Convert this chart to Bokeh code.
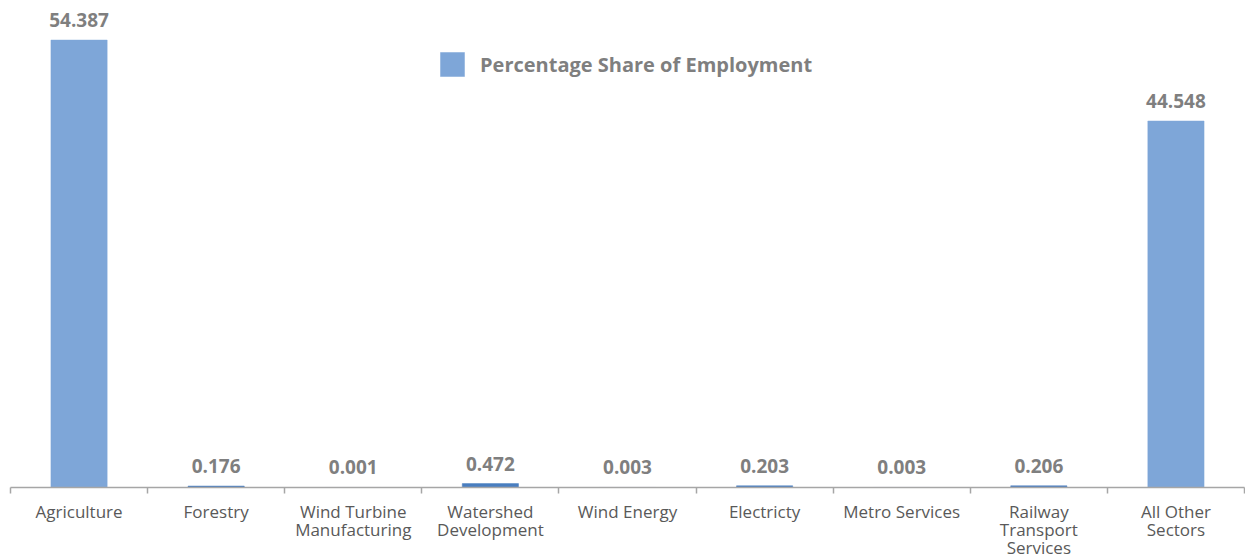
from bokeh.plotting import figure
from bokeh.models import ColumnDataSource, Range1d, FixedTicker, Legend, LegendItem, LabelSet
from bokeh.core.properties import value
from bokeh.embed import file_html
from bokeh.resources import INLINE

categories = ["Agriculture", "Forestry", "Wind Turbine\nManufacturing", "Watershed\nDevelopment",
              "Wind Energy", "Electricty", "Metro Services", "Railway\nTransport\nServices",
              "All Other\nSectors"]
values = [54.387, 0.176, 0.001, 0.472, 0.003, 0.203, 0.003, 0.206, 44.548]
value_labels = ["54.387", "0.176", "0.001", "0.472", "0.003", "0.203", "0.003", "0.206", "44.548"]
series_name = "Percentage Share of Employment"

xs = [i + 0.5 for i in range(len(categories))]
colors = ["#7EA6D8" if v >= 1 else "#4A7EC0" for v in values]

src = ColumnDataSource(dict(x=xs, top=values, color=colors, lbl=value_labels))

p = figure(frame_width=1234, frame_height=487, output_backend="svg", toolbar_location=None,
           x_range=Range1d(0, len(categories)), y_range=Range1d(0, 59.2),
           y_axis_location=None, min_border_left=10, min_border_right=1,
           min_border_top=0, min_border_bottom=0)
p.outline_line_color = None
p.xgrid.visible = False
p.ygrid.visible = False
p.background_fill_color = "white"
p.border_fill_color = "white"

r = p.vbar(x="x", top="top", width=0.41, bottom=0, fill_color="color", line_color="color",
           line_width=0.5, source=src)

labels = LabelSet(x="x", y="top", text="lbl", source=src, text_align="center",
                  text_baseline="bottom", y_offset=13, text_font=value("Open Sans"),
                  text_font_style="bold", text_font_size="19px", text_color="#7F7F7F")
p.add_layout(labels)

ax = p.xaxis[0]
ax.ticker = FixedTicker(ticks=xs, minor_ticks=list(range(len(categories) + 1)))
ax.major_label_overrides = {x: c for x, c in zip(xs, categories)}
ax.major_tick_line_color = None
ax.minor_tick_line_color = "#A6A6A6"
ax.minor_tick_line_width = 1.5
ax.minor_tick_out = 6
ax.minor_tick_in = 0
ax.axis_line_color = "#A6A6A6"
ax.axis_line_width = 1.5
ax.major_label_text_font = "Open Sans"
ax.major_label_text_font_size = "17px"
ax.major_label_text_color = "#595959"
ax.major_label_text_line_height = 0.8
ax.major_label_standoff = 6

legend = Legend(items=[LegendItem(label=series_name, renderers=[r])],
                location=(427, 408), glyph_width=30, glyph_height=30,
                label_text_font="Open Sans", label_text_font_style="bold",
                label_text_font_size="20px", label_text_color="#7F7F7F",
                border_line_color=None, background_fill_alpha=0, label_standoff=13)
p.add_layout(legend)

open("out.html", "w").write(file_html(p, INLINE))
